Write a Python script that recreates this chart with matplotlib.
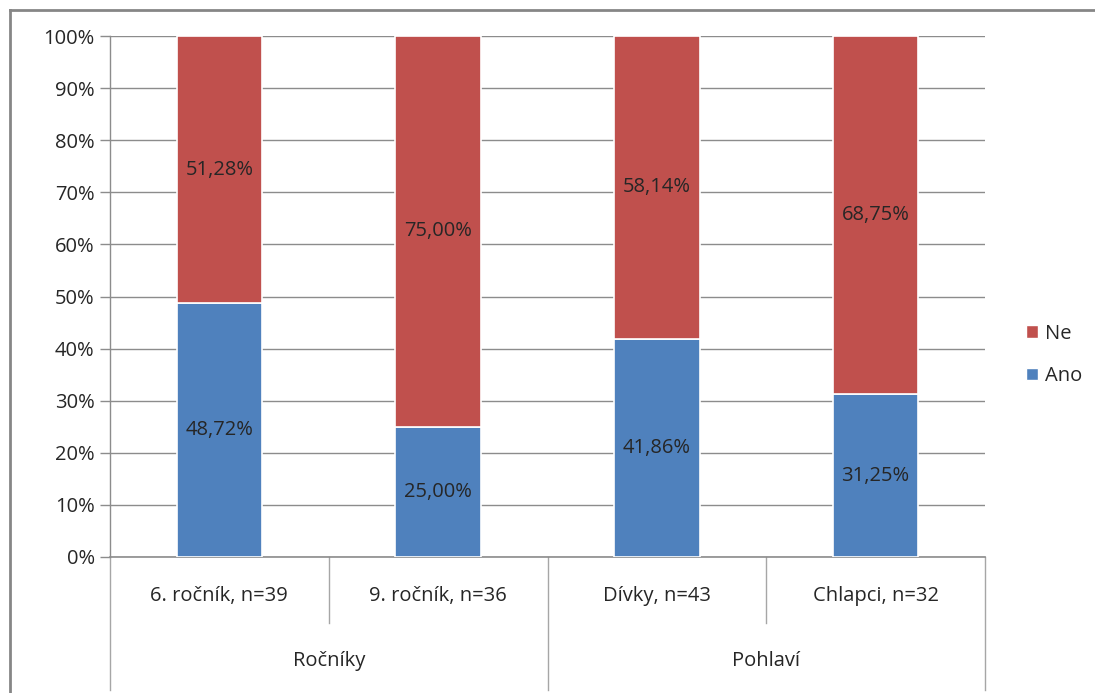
import matplotlib
matplotlib.use("Agg")
import matplotlib.pyplot as plt
from matplotlib.lines import Line2D
from matplotlib.patches import Patch

plt.rcParams['font.family'] = ['Open Sans', 'DejaVu Sans']

categories = ["6. ročník, n=39", "9. ročník, n=36", "Dívky, n=43", "Chlapci, n=32"]
groups = ["Ročníky", "Pohlaví"]
ano = [48.72, 25.00, 41.86, 31.25]
ne = [51.28, 75.00, 58.14, 68.75]

c_ano = "#4F81BD"
c_ne = "#C0504D"
grid_c = "#8C8C8C"
txt_c = "#262626"
fs = 14.5

fig = plt.figure(figsize=(10.95, 6.93), dpi=100)
ax = fig.add_axes([110 / 1095, 1 - 557 / 693, 875 / 1095, 521 / 693])

x = list(range(len(categories)))
w = 0.39
ax.bar(x, ano, width=w, color=c_ano, edgecolor="white", linewidth=1.2, zorder=3)
ax.bar(x, ne, width=w, bottom=ano, color=c_ne, edgecolor="white", linewidth=1.2, zorder=3)

def fmt(v):
    return f"{v:.2f}".replace(".", ",") + "%"

for i in x:
    ax.text(i, ano[i] / 2, fmt(ano[i]), ha="center", va="center", fontsize=fs, color=txt_c, zorder=4)
    ax.text(i, ano[i] + ne[i] / 2, fmt(ne[i]), ha="center", va="center", fontsize=fs, color=txt_c, zorder=4)

ax.set_xlim(-0.5, 3.5)
ax.set_ylim(0, 100)
ax.set_yticks(range(0, 101, 10))
ax.set_yticklabels([f"{t}%" for t in range(0, 101, 10)], fontsize=fs, color=txt_c)
ax.tick_params(axis="y", length=7, width=1, color=grid_c, pad=4)
ax.set_xticks([])
ax.yaxis.grid(True, color=grid_c, linewidth=1)
ax.set_axisbelow(True)
for s in ("top", "right"):
    ax.spines[s].set_visible(False)
ax.spines["left"].set_color(grid_c)
ax.spines["bottom"].set_color(grid_c)
ax.spines["left"].set_linewidth(1)
ax.spines["bottom"].set_linewidth(1.2)

# Two-level category axis drawn below the plot area
trans = ax.get_xaxis_transform()
h_ax = 521  # axes height in pixels
def yfrac(px):
    return -(px - 557) / h_ax

for sep in (0.5, 2.5):
    ax.add_line(Line2D([sep, sep], [0, yfrac(623)], transform=trans, color="#A6A6A6", linewidth=1, clip_on=False))
for sep in (-0.5, 1.5, 3.5):
    ax.add_line(Line2D([sep, sep], [0, yfrac(690)], transform=trans, color="#A6A6A6", linewidth=1, clip_on=False))

for i, c in enumerate(categories):
    ax.text(i, yfrac(596), c, transform=trans, ha="center", va="center", fontsize=fs, color=txt_c, clip_on=False)
for g, gi in enumerate(groups):
    ax.text(0.5 + 2 * g, yfrac(661), gi, transform=trans, ha="center", va="center", fontsize=fs, color=txt_c, clip_on=False)

handles = [Patch(facecolor=c_ne, edgecolor="white"), Patch(facecolor=c_ano, edgecolor="white")]
fig.legend(handles, ["Ne", "Ano"], loc="center left", bbox_to_anchor=(1008 / 1095, 1 - 355 / 693),
           frameon=False, fontsize=fs, handlelength=0.6, handleheight=0.6, handletextpad=0.35,
           labelspacing=1.1, labelcolor=txt_c)

# Chart frame (top and left edges)
fig.add_artist(Line2D([10 / 1095, 1.0], [1 - 10 / 693, 1 - 10 / 693], transform=fig.transFigure, color="#868686", linewidth=2))
fig.add_artist(Line2D([10 / 1095, 10 / 1095], [0, 1 - 10 / 693], transform=fig.transFigure, color="#868686", linewidth=2))

fig.savefig("out.png", dpi=100, facecolor="white")
